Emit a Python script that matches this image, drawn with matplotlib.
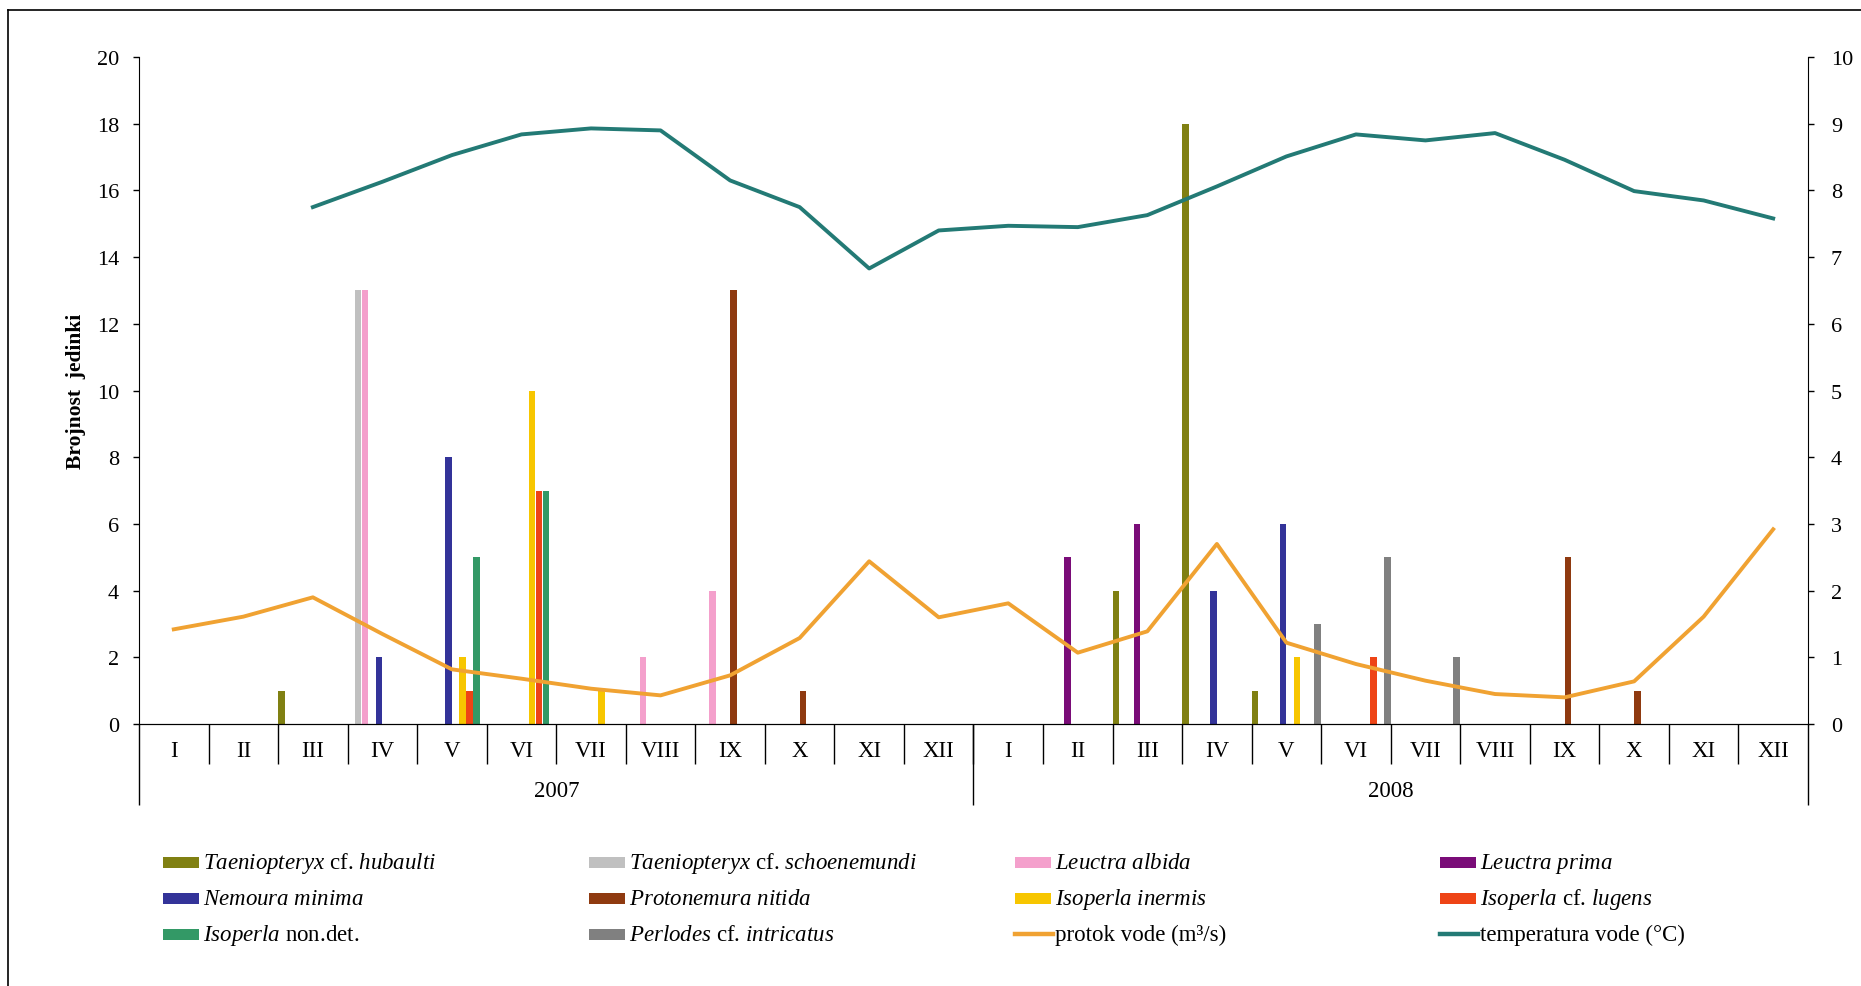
import numpy as np
import matplotlib
matplotlib.use("Agg")
import matplotlib.pyplot as plt
from matplotlib.lines import Line2D
from matplotlib.patches import Rectangle

plt.rcParams['font.family'] = ['Liberation Serif', 'DejaVu Serif']
plt.rcParams['mathtext.fontset'] = 'custom'
plt.rcParams['mathtext.rm'] = 'Liberation Serif'
plt.rcParams['mathtext.it'] = 'Liberation Serif:italic'

months = ['I', 'II', 'III', 'IV', 'V', 'VI', 'VII', 'VIII', 'IX', 'X', 'XI', 'XII'] * 2
years = ['2007', '2008']

# broj jedinki po mjesecima (2007 + 2008)
hubaulti     = [0, 0, 1, 0, 0, 0, 0, 0, 0, 0, 0, 0,   0, 0, 4, 18, 1, 0, 0, 0, 0, 0, 0, 0]
schoenemundi = [0, 0, 0, 13, 0, 0, 0, 0, 0, 0, 0, 0,  0, 0, 0, 0, 0, 0, 0, 0, 0, 0, 0, 0]
albida       = [0, 0, 0, 13, 0, 0, 0, 2, 4, 0, 0, 0,  0, 0, 0, 0, 0, 0, 0, 0, 0, 0, 0, 0]
prima        = [0, 0, 0, 0, 0, 0, 0, 0, 0, 0, 0, 0,   0, 5, 6, 0, 0, 0, 0, 0, 0, 0, 0, 0]
minima       = [0, 0, 0, 2, 8, 0, 0, 0, 0, 0, 0, 0,   0, 0, 0, 4, 6, 0, 0, 0, 0, 0, 0, 0]
nitida       = [0, 0, 0, 0, 0, 0, 0, 0, 13, 1, 0, 0,  0, 0, 0, 0, 0, 0, 0, 0, 5, 1, 0, 0]
inermis      = [0, 0, 0, 0, 2, 10, 1, 0, 0, 0, 0, 0,  0, 0, 0, 0, 2, 0, 0, 0, 0, 0, 0, 0]
lugens       = [0, 0, 0, 0, 1, 7, 0, 0, 0, 0, 0, 0,   0, 0, 0, 0, 0, 2, 0, 0, 0, 0, 0, 0]
nondet       = [0, 0, 0, 0, 5, 7, 0, 0, 0, 0, 0, 0,   0, 0, 0, 0, 0, 0, 0, 0, 0, 0, 0, 0]
perlodes     = [0, 0, 0, 0, 0, 0, 0, 0, 0, 0, 0, 0,   0, 0, 0, 0, 3, 5, 2, 0, 0, 0, 0, 0]

protok = [1.42, 1.61, 1.90, 1.35, 0.82, 0.68, 0.53, 0.43, 0.73, 1.29, 2.44, 1.60,
          1.81, 1.07, 1.39, 2.70, 1.22, 0.90, 0.65, 0.45, 0.40, 0.64, 1.61, 2.92]
temperatura = [np.nan, np.nan, 7.75, 8.13, 8.53, 8.84, 8.93, 8.90, 8.15, 7.75, 6.83, 7.40,
               7.47, 7.45, 7.63, 8.06, 8.51, 8.84, 8.75, 8.86, 8.46, 7.99, 7.85, 7.58]

species = [
    (r'$\mathit{Taeniopteryx}$ cf. $\mathit{hubaulti}$', hubaulti, '#808012'),
    (r'$\mathit{Taeniopteryx}$ cf. $\mathit{schoenemundi}$', schoenemundi, '#c0c0c0'),
    (r'$\mathit{Leuctra\ albida}$', albida, '#f4a0cc'),
    (r'$\mathit{Leuctra\ prima}$', prima, '#7a0c78'),
    (r'$\mathit{Nemoura\ minima}$', minima, '#333399'),
    (r'$\mathit{Protonemura\ nitida}$', nitida, '#8f3a10'),
    (r'$\mathit{Isoperla\ inermis}$', inermis, '#f7c600'),
    (r'$\mathit{Isoperla}$ cf. $\mathit{lugens}$', lugens, '#ee4416'),
    (r'$\mathit{Isoperla}$ non.det.', nondet, '#339966'),
    (r'$\mathit{Perlodes}$ cf. $\mathit{intricatus}$', perlodes, '#808080'),
]
flow_label = 'protok vode (m³/s)'
temp_label = 'temperatura vode (°C)'
flow_color = '#f0a232'
temp_color = '#237a75'

W, H = 1861, 987
fig = plt.figure(figsize=(W / 100, H / 100), dpi=100)
ax = fig.add_axes([0.0747, 0.2654, 0.8968, 0.6758])
x = np.arange(len(months))

for k, (label, vals, col) in enumerate(species):
    ax.bar(x + (k - 4.5) * 0.1, vals, width=0.095, color=col, linewidth=0)

ax.set_xlim(-0.5, 23.5)
ax.set_ylim(0, 20)
ax.set_yticks(range(0, 21, 2))
ax.set_ylabel('Brojnost  jedinki', fontsize=15.5, fontweight='bold', labelpad=8)
ax.tick_params(axis='y', direction='out', length=4.5, width=1, pad=10, labelsize=16)
ax.spines['top'].set_visible(False)
ax.spines['right'].set_visible(False)
ax.set_xticks([])

ax2 = ax.twinx()
ax2.plot(x, protok, color=flow_color, lw=2.8)
ax2.plot(x, temperatura, color=temp_color, lw=2.8)
ax2.set_ylim(0, 10)
ax2.set_yticks(range(0, 11))
ax2.tick_params(axis='y', direction='out', length=4.5, width=1, pad=12, labelsize=16)
ax2.spines['top'].set_visible(False)
ax2.spines['left'].set_visible(False)
ax2.set_xticks([])

# dvorazinska kategorijska os
tr = ax.get_xaxis_transform()
for i, m in enumerate(months):
    ax.text(i, -0.039, m, transform=tr, ha='center', va='center', fontsize=16.5)
ax.vlines(np.arange(0.5, 23, 1), -0.06, 0, transform=tr, colors='black', lw=1, clip_on=False)
ax.vlines([-0.5, 11.5, 23.5], -0.122, 0, transform=tr, colors='black', lw=1, clip_on=False)
for j, yr in enumerate(years):
    ax.text(5.5 + 12 * j, -0.100, yr, transform=tr, ha='center', va='center', fontsize=16.5)

# legenda: 4 stupca x 3 reda
entries = [(lab, 'patch', col) for lab, _, col in species]
entries += [(flow_label, 'line', flow_color), (temp_label, 'line', temp_color)]
col_px = [163, 589, 1015, 1440]
row_px = [863, 899, 935]
for n, (lab, kind, col) in enumerate(entries):
    r, c = divmod(n, 4)
    x0, yc = col_px[c], row_px[r]
    if kind == 'patch':
        fig.add_artist(Rectangle((x0 / W, 1 - (yc + 5.5) / H), 36 / W, 11 / H,
                                 transform=fig.transFigure, facecolor=col, edgecolor='none'))
    else:
        fig.add_artist(Line2D([x0 / W, (x0 + 38) / W], [1 - yc / H, 1 - yc / H],
                              transform=fig.transFigure, color=col, lw=3.2))
    fig.text((x0 + 40) / W, 1 - (yc + 6.5) / H, lab, fontsize=16.5, ha='left', va='baseline')

fig.add_artist(Line2D([8 / W, 1], [1 - 11 / H, 1 - 11 / H], transform=fig.transFigure, color='black', lw=1.2))
fig.add_artist(Line2D([8 / W, 8 / W], [0, 1 - 11 / H], transform=fig.transFigure, color='black', lw=1.2))

fig.savefig('out.png', dpi=100)
